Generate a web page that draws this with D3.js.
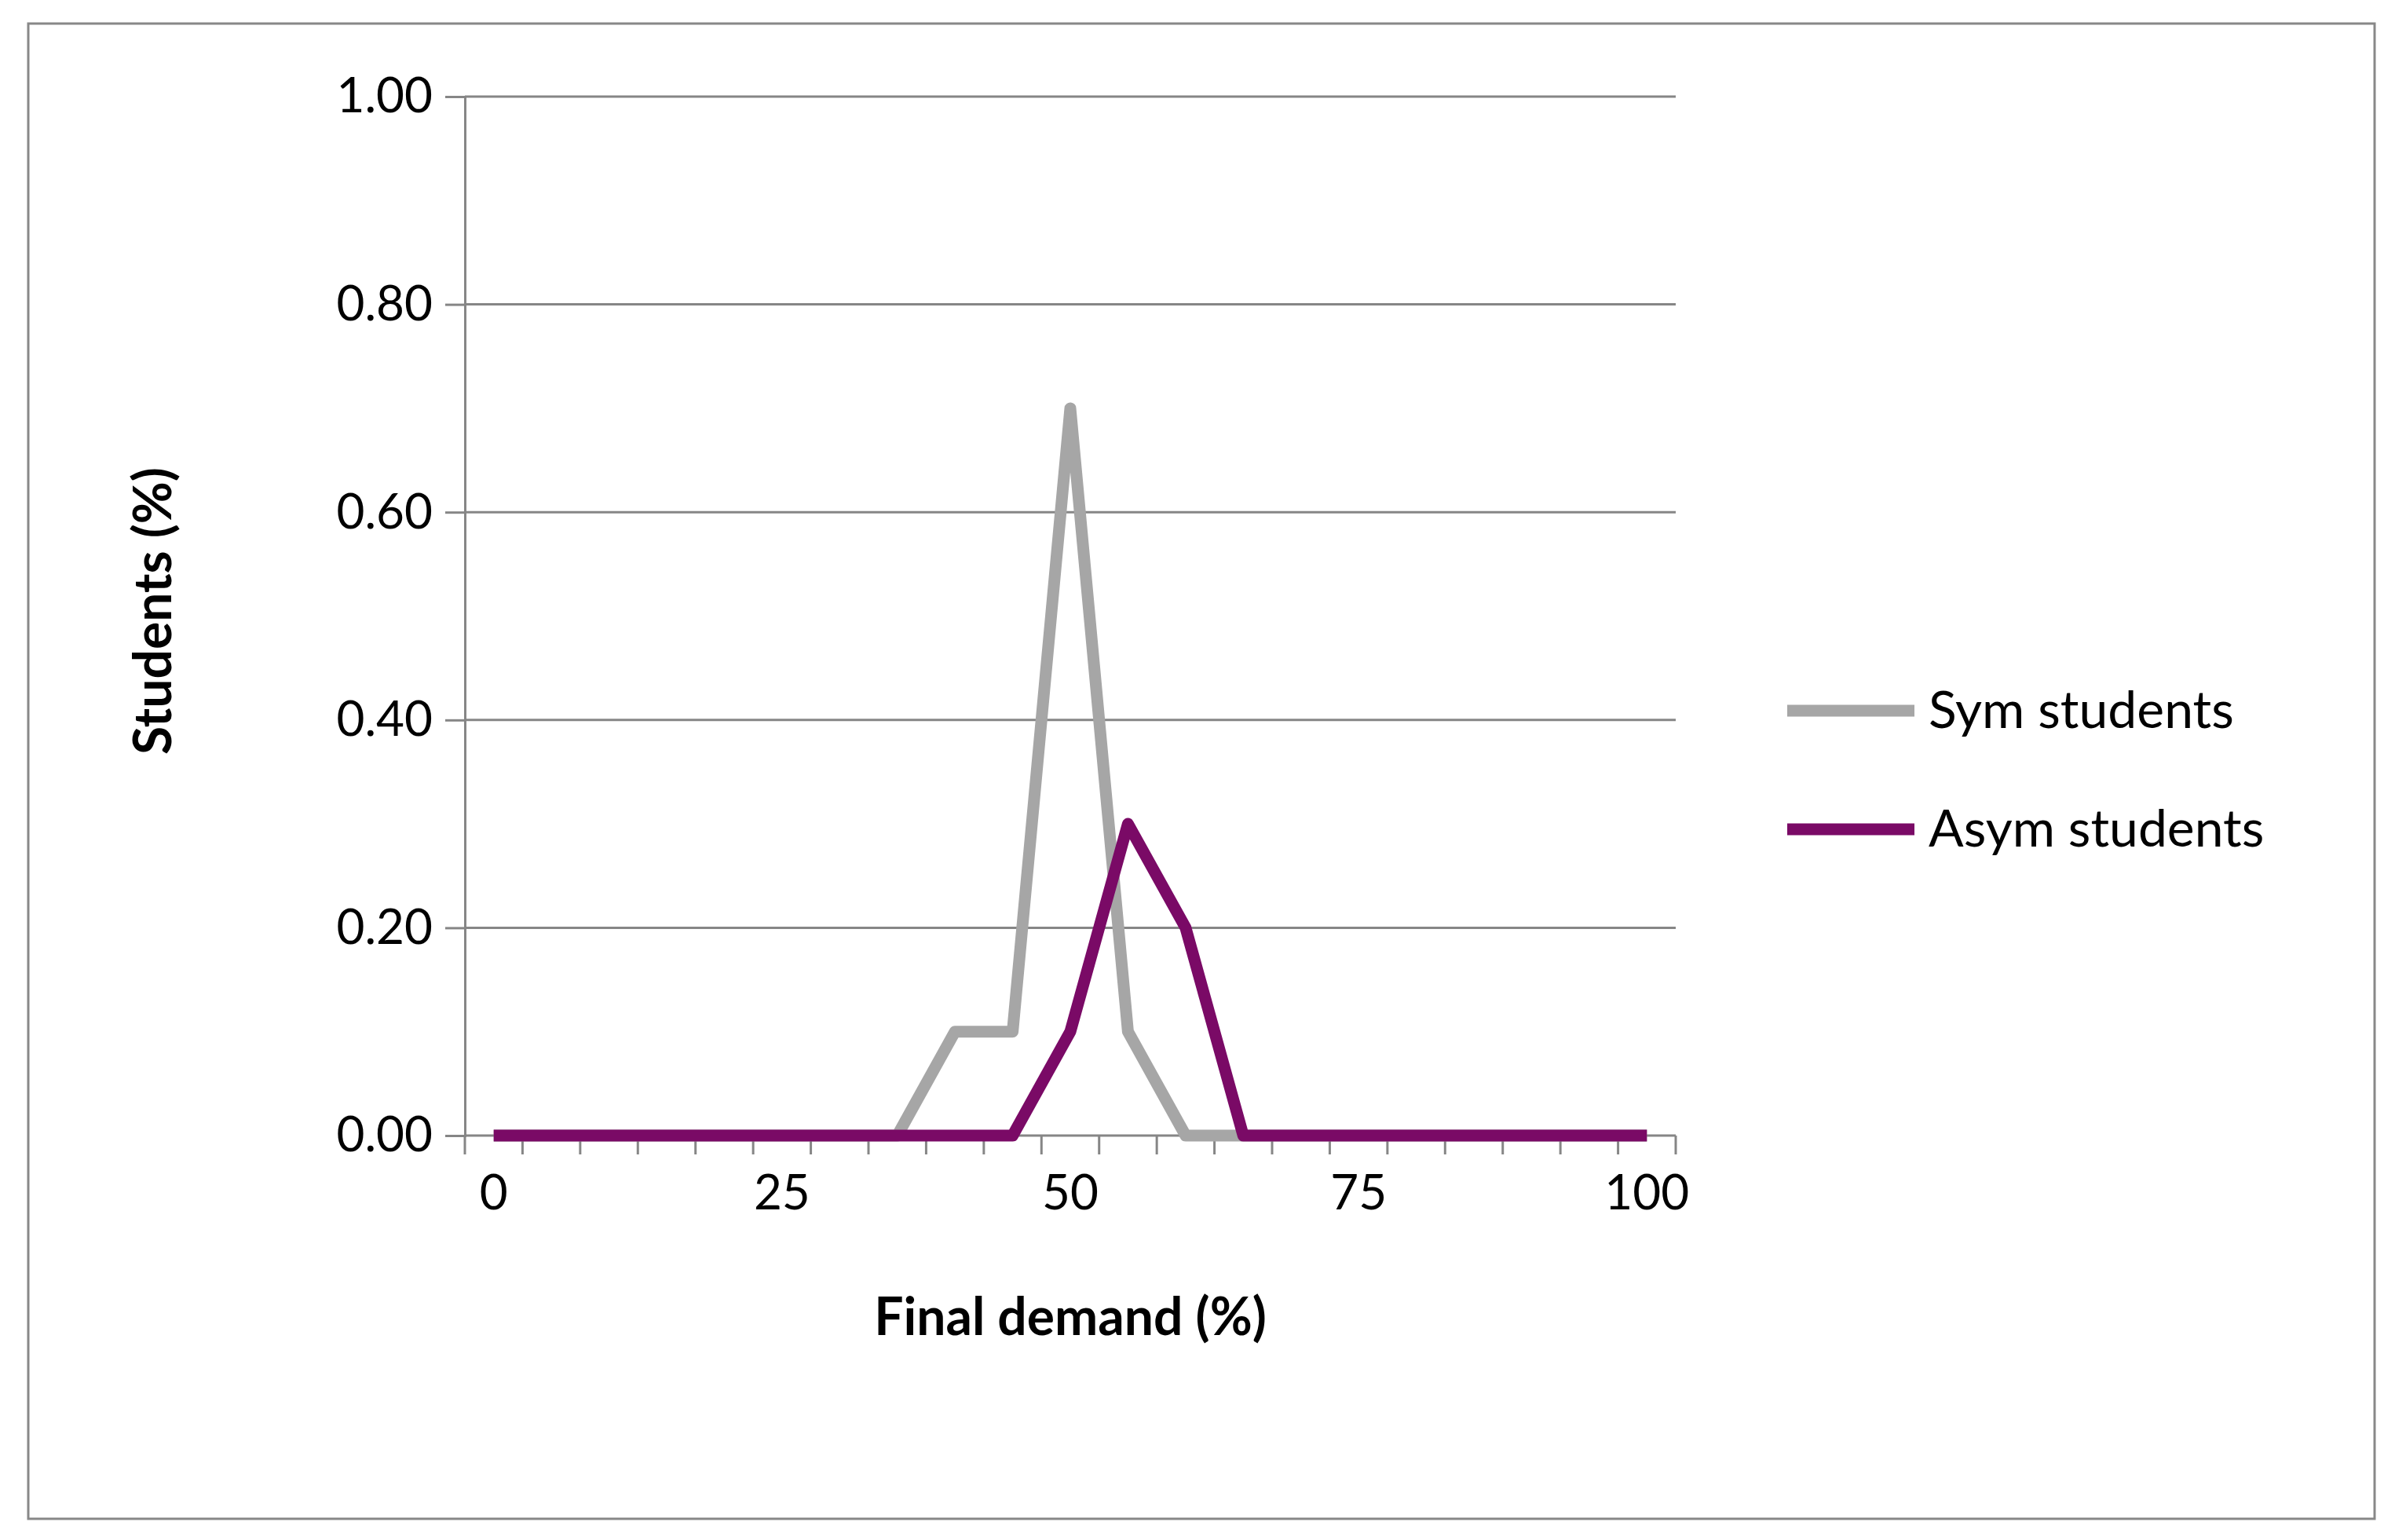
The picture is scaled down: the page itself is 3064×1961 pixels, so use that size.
<!DOCTYPE html>
<html><head><meta charset="utf-8">
<script src="https://cdn.jsdelivr.net/npm/d3@7"></script>
<style>body{margin:0;background:#fff}</style>
</head><body><div id="root"></div>
<script>
// categorie e serie
const categories = d3.range(0, 101, 5);
const symValues  = [0,0,0,0,0,0,0,0,0.1,0.1,0.7,0.1,0,0,0,0,0,0,0,0,0];
const asymValues = [0,0,0,0,0,0,0,0,0,0,0.1,0.3,0.2,0,0,0,0,0,0,0,0];
const yTicks = [0, 0.2, 0.4, 0.6, 0.8, 1.0];
const xLabels = [0, 25, 50, 75, 100];
const seriesNames = ["Sym students", "Asym students"];
const seriesColors = ["#a6a6a6", "#7a0a66"];

const W = 3064, H = 1961;
const plot = { left: 592, right: 2134, top: 123, bottom: 1446 };
const font = "Lato, 'Liberation Sans', sans-serif";

const svg = d3.select("#root").append("svg").attr("width", W).attr("height", H);
svg.append("rect").attr("x", 36).attr("y", 30).attr("width", 2988).attr("height", 1904)
  .attr("fill", "none").attr("stroke", "#888").attr("stroke-width", 3);

const xBand = d3.scaleBand().domain(categories).range([plot.left, plot.right]);
const x = c => xBand(c) + xBand.bandwidth() / 2;
const y = d3.scaleLinear().domain([0, 1]).range([plot.bottom, plot.top]);

// griglia
svg.append("g").selectAll("line").data(yTicks.slice(1)).join("line")
  .attr("x1", plot.left).attr("x2", plot.right)
  .attr("y1", d => y(d)).attr("y2", d => y(d))
  .attr("stroke", "#868686").attr("stroke-width", 3);

// asse y
const yAxis = svg.append("g").attr("transform", `translate(${plot.left},0)`)
  .call(d3.axisLeft(y).tickValues(yTicks).tickFormat(d3.format(".2f")).tickSize(25).tickPadding(16));
yAxis.select(".domain").attr("stroke", "#868686").attr("stroke-width", 3);
yAxis.selectAll(".tick line").attr("stroke", "#868686").attr("stroke-width", 3);
yAxis.selectAll("text").attr("font-family", font).attr("font-size", 62).attr("fill", "#000");

// asse x
const xg = svg.append("g").attr("transform", `translate(0,${plot.bottom})`);
xg.append("line").attr("x1", plot.left).attr("x2", plot.right).attr("stroke", "#868686").attr("stroke-width", 3);
const bounds = categories.map(c => xBand(c)).concat([plot.right]);
xg.selectAll(".tk").data(bounds).join("line").attr("class", "tk")
  .attr("x1", d => d).attr("x2", d => d).attr("y1", 0).attr("y2", 24)
  .attr("stroke", "#868686").attr("stroke-width", 3);
xg.selectAll("text").data(xLabels).join("text")
  .attr("x", d => x(d)).attr("y", 94).attr("text-anchor", "middle")
  .attr("font-family", font).attr("font-size", 62).text(d => d);

// linee
const line = d3.line().x((d, i) => x(categories[i])).y(d => y(d));
[symValues, asymValues].forEach((vals, i) => {
  svg.append("path").datum(vals).attr("d", line).attr("fill", "none")
    .attr("stroke", seriesColors[i]).attr("stroke-width", 15).attr("stroke-linejoin", "round");
});

// titoli
svg.append("text").attr("x", x(50)).attr("y", 1700).attr("text-anchor", "middle")
  .attr("font-family", font).attr("font-weight", "bold").attr("font-size", 66).text("Final demand (%)");
svg.append("text").attr("transform", "translate(218,778) rotate(-90)").attr("text-anchor", "middle")
  .attr("font-family", font).attr("font-weight", "bold").attr("font-size", 66).text("Students (%)");

// legenda
seriesNames.forEach((n, i) => {
  const ly = 905 + i * 151;
  svg.append("line").attr("x1", 2276).attr("x2", 2438).attr("y1", ly).attr("y2", ly)
    .attr("stroke", seriesColors[i]).attr("stroke-width", 15);
  svg.append("text").attr("x", 2456).attr("y", ly + 22).attr("font-family", font)
    .attr("font-size", 66).text(n);
});
</script></body></html>
